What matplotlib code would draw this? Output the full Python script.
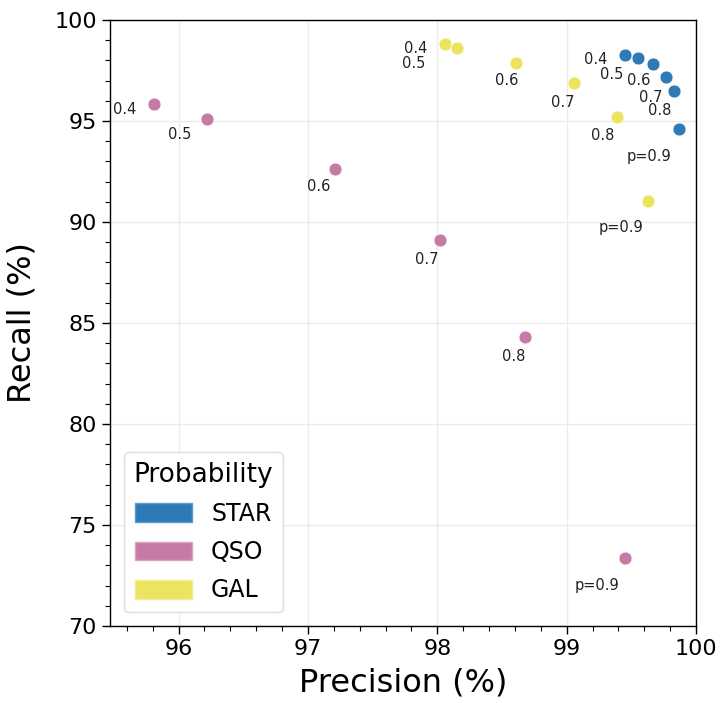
import matplotlib
matplotlib.use("Agg")
import matplotlib.pyplot as plt
from matplotlib.patches import Patch
from matplotlib.ticker import MultipleLocator

# datos (precision, recall en %)
umbrales = ['0.4', '0.5', '0.6', '0.7', '0.8', 'p=0.9']

star_prec = [99.45, 99.55, 99.67, 99.77, 99.83, 99.87]
star_rec = [98.27, 98.10, 97.81, 97.16, 96.47, 94.60]

qso_prec = [95.81, 96.22, 97.21, 98.02, 98.68, 99.45]
qso_rec = [95.83, 95.10, 92.61, 89.11, 84.32, 73.35]

gal_prec = [98.06, 98.15, 98.61, 99.06, 99.39, 99.63]
gal_rec = [98.81, 98.63, 97.86, 96.90, 95.21, 91.05]

clases = ['STAR', 'QSO', 'GAL']
colores = ['#2e7ab6', '#c67aa6', '#ece35f']
bordes = ['#5b9bd0', '#dca0c4', '#f3ec94']

# desplazamiento de las etiquetas en pixeles (solo maquetacion)
desp = {
    'STAR': [(-29, -5), (-26, -16), (-15, -16), (-16, -20), (-14, -19), (-30, -27)],
    'QSO': [(-29, -5), (-27, -16), (-16, -17), (-13, -20), (-12, -20), (-28, -27)],
    'GAL': [(-29, -4), (-43, -16), (-10, -17), (-12, -20), (-14, -19), (-27, -27)],
}

fig = plt.figure(figsize=(7.22, 7.03), dpi=100)
ax = fig.add_axes([0.1524, 0.1095, 0.964 - 0.1524, 0.9716 - 0.1095])

datos = [(star_prec, star_rec), (qso_prec, qso_rec), (gal_prec, gal_rec)]
for nombre, (px, ry), color in zip(clases, datos, colores):
    ax.scatter(px, ry, s=85, color=color, edgecolors='white', linewidths=0.4, zorder=3)
    for i, txt in enumerate(umbrales):
        ax.annotate(txt, (px[i], ry[i]), xytext=desp[nombre][i], textcoords='offset pixels',
                    ha='center', va='center', fontsize=10.5, color='#222222')

ax.set_xlim(95.47, 100)
ax.set_ylim(70, 100)
ax.xaxis.set_major_locator(MultipleLocator(1))
ax.xaxis.set_minor_locator(MultipleLocator(0.2))
ax.yaxis.set_major_locator(MultipleLocator(5))
ax.yaxis.set_minor_locator(MultipleLocator(1))
ax.tick_params(which='major', length=6, width=1, labelsize=16, direction='out')
ax.tick_params(which='minor', length=3.5, width=0.8, direction='out')
ax.grid(True, which='major', color='#ebebeb', linewidth=1)
ax.set_axisbelow(True)
for s in ax.spines.values():
    s.set_color('black')
    s.set_linewidth(1)

ax.set_xlabel('Precision (%)', fontsize=23, labelpad=6)
ax.set_ylabel('Recall (%)', fontsize=23, labelpad=12)

handles = [Patch(facecolor=c, edgecolor=b, label=n) for n, c, b in zip(clases, colores, bordes)]
leg = ax.legend(handles=handles, title='Probability', loc='lower left', fontsize=17,
                title_fontsize=19, handlelength=2.4, handleheight=0.85, labelspacing=0.6,
                borderaxespad=0.6, framealpha=1, edgecolor='#dddddd', fancybox=True)

plt.savefig('out.png', dpi=100)
